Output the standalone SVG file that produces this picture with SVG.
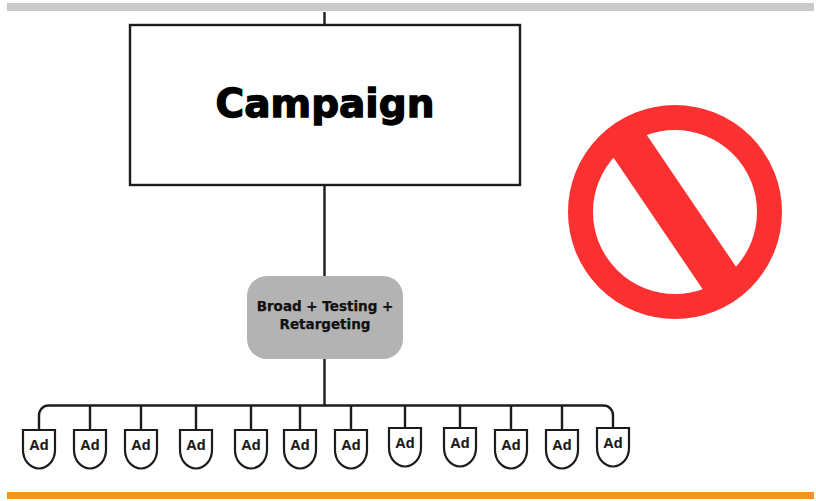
<svg xmlns="http://www.w3.org/2000/svg" width="816" height="501" viewBox="0 0 816 501">
<defs>
<style>
.line{fill:none;stroke:#1c1c1c;stroke-width:2.4}
.ad{fill:#fff;stroke:#1c1c1c;stroke-width:2.2}
.adt{font-family:"Liberation Sans",Arial,sans-serif;font-weight:700;font-size:14.500px;fill:#1a1a1a;text-anchor:middle;stroke:#1a1a1a;stroke-width:0.2}
.bt{font-family:"DejaVu Sans",sans-serif;font-weight:700;font-size:13.500px;fill:#111;text-anchor:middle;stroke:#111;stroke-width:0.25}
</style>
<path id="adshape" d="M-16 0H16V20A16 18.500 0 0 1-16 20Z"/>
</defs>
<rect width="816" height="501" fill="#fff"/>
<rect x="7" y="3" width="807" height="8" fill="#c9c9c9"/>
<rect x="7" y="492" width="807" height="7" fill="#fd9223"/>
<g id="connectors" class="line">
<path d="M324.500 12V25M324.500 185V277M324.500 359V405"/>
<path d="M39 430V415A9.500 9.500 0 0 1 48.500 405.500H603.500A9.500 9.500 0 0 1 613 415V428"/>
<path d="M90 405.500V430M141 405.500V430M196 405.500V430M251 405.500V430M300 405.500V430M351 405.500V430M405 405.500V428M460 405.500V428M511 405.500V430M562 405.500V430"/>
</g>
<g id="campaign">
<rect x="130" y="25" width="390" height="160" fill="#fff" stroke="#1c1c1c" stroke-width="2.400"/>
<text x="325" y="117" font-family="'DejaVu Sans',sans-serif" font-weight="700" font-size="39" text-anchor="middle" fill="#000" stroke="#000" stroke-width="1.300">Campaign</text>
</g>
<g id="broad">
<rect x="247" y="276" width="156" height="83" rx="20" fill="#b3b3b3"/>
<text x="325" y="311" class="bt">Broad + Testing +</text>
<text x="325" y="329" class="bt">Retargeting</text>
</g>
<g id="prohibited">
<circle cx="675" cy="212" r="94.500" fill="#fff" stroke="#fb3131" stroke-width="25"/>
<path d="M607 148L640 125L743 277L710 300Z" fill="#fb3131"/>
</g>
<g id="ad1"><use href="#adshape" x="39" y="430" class="ad"/><text x="39" y="450" class="adt">Ad</text></g>
<g id="ad2"><use href="#adshape" x="90" y="430" class="ad"/><text x="90" y="450" class="adt">Ad</text></g>
<g id="ad3"><use href="#adshape" x="141" y="430" class="ad"/><text x="141" y="450" class="adt">Ad</text></g>
<g id="ad4"><use href="#adshape" x="196" y="430" class="ad"/><text x="196" y="450" class="adt">Ad</text></g>
<g id="ad5"><use href="#adshape" x="251" y="430" class="ad"/><text x="251" y="450" class="adt">Ad</text></g>
<g id="ad6"><use href="#adshape" x="300" y="430" class="ad"/><text x="300" y="450" class="adt">Ad</text></g>
<g id="ad7"><use href="#adshape" x="351" y="430" class="ad"/><text x="351" y="450" class="adt">Ad</text></g>
<g id="ad8"><use href="#adshape" x="405" y="428" class="ad"/><text x="405" y="448" class="adt">Ad</text></g>
<g id="ad9"><use href="#adshape" x="460" y="428" class="ad"/><text x="460" y="448" class="adt">Ad</text></g>
<g id="ad10"><use href="#adshape" x="511" y="430" class="ad"/><text x="511" y="450" class="adt">Ad</text></g>
<g id="ad11"><use href="#adshape" x="562" y="430" class="ad"/><text x="562" y="450" class="adt">Ad</text></g>
<g id="ad12"><use href="#adshape" x="613" y="428" class="ad"/><text x="613" y="448" class="adt">Ad</text></g>
</svg>
